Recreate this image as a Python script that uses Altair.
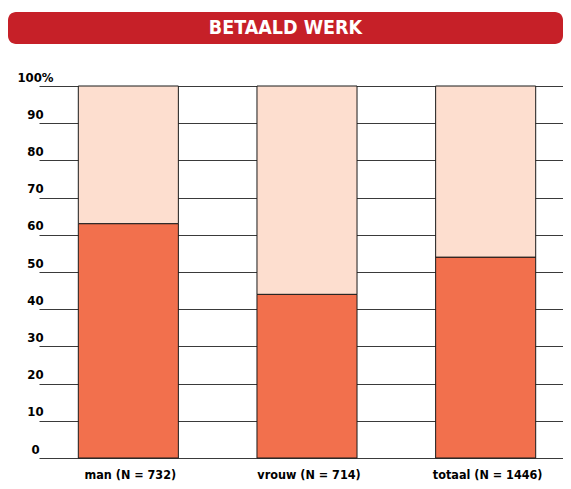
import altair as alt
import pandas as pd

title_text = "BETAALD WERK"
categories = ["man (N = 732)", "vrouw (N = 714)", "totaal (N = 1446)"]
betaald = [63, 44, 54]
rest = [37, 56, 46]
segments = ["betaald werk", "geen betaald werk"]
y_ticks = [0, 10, 20, 30, 40, 50, 60, 70, 80, 90, 100]

rows = []
for c, b, r in zip(categories, betaald, rest):
    rows.append({"groep": c, "segment": segments[0], "pct": b, "orde": 0})
    rows.append({"groep": c, "segment": segments[1], "pct": r, "orde": 1})
df = pd.DataFrame(rows)

FONT = "'DejaVu Sans Condensed', 'Liberation Sans', sans-serif"
DARK = "#F2704D"
LIGHT = "#FDDECF"
RED = "#C62028"

bars = alt.Chart(df).mark_bar(stroke="#1a1a1a", strokeWidth=1).encode(
    x=alt.X(
        "groep:N",
        sort=categories,
        scale=alt.Scale(range=[31, 567], paddingInner=0.44, paddingOuter=0.22),
        axis=alt.Axis(
            title=None, labelAngle=0, domain=False, ticks=False, tickSize=0,
            labelPadding=10, labelFont=FONT, labelFontSize=12.5,
            labelFontWeight="bold", labelColor="black", grid=False,
            labelBaseline="top", labelOffset=2,
        ),
    ),
    y=alt.Y(
        "pct:Q",
        stack="zero",
        scale=alt.Scale(domain=[0, 100], nice=False),
        axis=alt.Axis(
            title=None, values=y_ticks, domain=False, ticks=False, tickSize=0,
            labelExpr="datum.value == 100 ? '100%' : datum.label",
            labelAlign="center", labelBaseline="alphabetic", labelOffset=-5,
            labelPadding=-27, labelFont=FONT, labelFontSize=13,
            labelFontWeight="bold", labelColor="black",
            grid=True, gridColor="#3a3a3a", gridOpacity=1, gridWidth=1,
        ),
    ),
    color=alt.Color(
        "segment:N",
        scale=alt.Scale(domain=segments, range=[DARK, LIGHT]),
        legend=None,
    ),
    order=alt.Order("orde:Q"),
).properties(width=563, height=372, view=alt.ViewBackground(strokeWidth=0))

banner = alt.Chart(pd.DataFrame({"t": [title_text]})).mark_text(
    font=FONT, fontSize=19.5, fontWeight="bold", color="white", baseline="middle"
).encode(text="t:N").properties(
    width=555, height=32,
    view=alt.ViewBackground(fill=RED, stroke=RED, strokeWidth=0, cornerRadius=8),
)

chart = alt.vconcat(banner, bars, spacing=27).properties(
    padding={"left": 0, "right": -8, "top": 4, "bottom": 0}
)

chart.save("out.html", embed_options={"renderer": "svg", "actions": False})
